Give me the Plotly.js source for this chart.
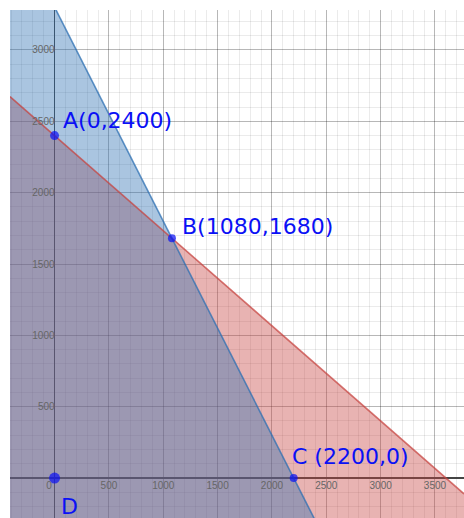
<!DOCTYPE html>
<html>
<head>
<meta charset="utf-8">
<script src="https://cdn.plot.ly/plotly-3.0.1.min.js"></script>
<style>
  html, body { margin: 0; padding: 0; background: #fff; }
  #plot { width: 464px; height: 518px; }
</style>
</head>
<body>
<div id="plot"></div>
<script>
// corner points of the feasible region
const pointNames = ['A', 'B', 'C', 'D'];
const pointX = [0, 1080, 2200, 0];
const pointY = [2400, 1680, 0, 0];
const pointLabels = ['A(0,2400)', 'B(1080,1680)', 'C (2200,0)', 'D'];

// axis ticks
const xTickVals = [0, 500, 1000, 1500, 2000, 2500, 3000, 3500];
const xTickText = ['0\u2007\u2007', '500', '1000', '1500', '2000', '2500', '3000', '3500'];
const yTickVals = [500, 1000, 1500, 2000, 2500, 3000];
const yTickText = ['500', '1000', '1500', '2000', '2500', '3000'];

const xRange = [-410, 3767];
const yRange = [-280, 3280];

const BLUE = '#2d70b3';
const RED = '#c74440';

// line through two of the corner points -> y = m*x + b
const lineThrough = (i, j) => {
    const m = (pointY[j] - pointY[i]) / (pointX[j] - pointX[i]);
    return { m: m, b: pointY[i] - m * pointX[i] };
};
const blueLine = lineThrough(1, 2); // B-C
const redLine = lineThrough(0, 1);  // A-B

const halfPlane = (ln, color, name) => {
    const x0 = xRange[0], x1 = xRange[1];
    const low = yRange[0] - 2000;
    return {
        x: [x0, x0, x1, x1, x0],
        y: [low, ln.m * x0 + ln.b, ln.m * x1 + ln.b, low, low],
        name: name,
        mode: 'none',
        fill: 'toself',
        fillcolor: color,
        opacity: 0.4,
        hoverinfo: 'skip',
        type: 'scatter'
    };
};
const boundary = (ln, color) => ({
    x: [xRange[0], xRange[1]],
    y: [ln.m * xRange[0] + ln.b, ln.m * xRange[1] + ln.b],
    mode: 'lines',
    line: { color: color, width: 1.6 },
    opacity: 0.75,
    hoverinfo: 'skip',
    type: 'scatter'
});

const points = {
    x: pointX,
    y: pointY,
    text: pointNames,
    mode: 'markers',
    marker: { color: '#0a10f5', size: [9, 8, 8, 11], line: { width: 0 } },
    cliponaxis: false,
    type: 'scatter'
};

const traces = [
    halfPlane(redLine, RED, 'red'),
    halfPlane(blueLine, BLUE, 'blue'),
    boundary(redLine, RED),
    boundary(blueLine, BLUE),
    points
];

const labelShift = [[6, 15], [8, 12], [-4, 22], [4, -28]];
const annotations = pointLabels.map((t, i) => ({
    x: pointX[i],
    y: pointY[i],
    xref: 'x',
    yref: 'y',
    text: t,
    showarrow: false,
    xanchor: 'left',
    yanchor: 'middle',
    xshift: labelShift[i][0],
    yshift: labelShift[i][1],
    font: { family: 'DejaVu Sans', size: 22, color: '#0a10f5' }
}));

const gridMajor = 'rgba(0,0,0,0.22)';
const gridMinor = 'rgba(0,0,0,0.08)';

const layout = {
    width: 464,
    height: 518,
    margin: { l: 10, r: 0, t: 10, b: 0 },
    paper_bgcolor: '#ffffff',
    plot_bgcolor: '#ffffff',
    showlegend: false,
    font: { family: 'Liberation Sans, Arial, sans-serif', size: 10, color: '#666' },
    xaxis: {
        range: xRange,
        tickvals: xTickVals,
        ticktext: xTickText,
        showgrid: true,
        gridcolor: gridMajor,
        gridwidth: 1,
        minor: { dtick: 100, tick0: 0, showgrid: true, gridcolor: gridMinor, gridwidth: 1 },
        zeroline: true,
        zerolinecolor: '#444',
        zerolinewidth: 1.5,
        showline: false,
        ticks: '',
        anchor: 'free',
        position: (0 - yRange[0]) / (yRange[1] - yRange[0]),
        fixedrange: true
    },
    yaxis: {
        range: yRange,
        tickvals: yTickVals,
        ticktext: yTickText,
        showgrid: true,
        gridcolor: gridMajor,
        gridwidth: 1,
        minor: { dtick: 100, tick0: 0, showgrid: true, gridcolor: gridMinor, gridwidth: 1 },
        zeroline: true,
        zerolinecolor: '#444',
        zerolinewidth: 1.5,
        showline: false,
        ticks: '',
        anchor: 'free',
        position: (0 - xRange[0]) / (xRange[1] - xRange[0]),
        fixedrange: true
    },
    annotations: annotations
};

Plotly.newPlot('plot', traces, layout, { displayModeBar: false, staticPlot: true });
</script>
</body>
</html>
